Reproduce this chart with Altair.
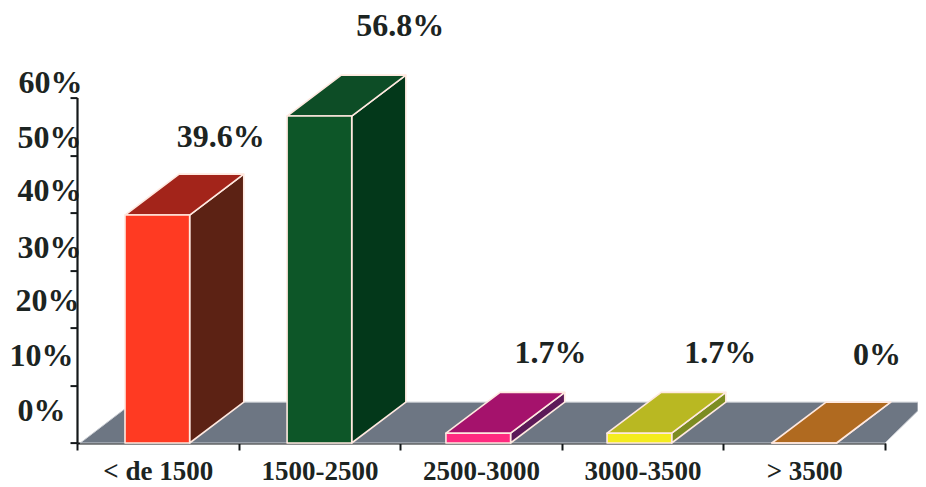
import altair as alt
import pandas as pd

categories = ["< de 1500", "1500-2500", "2500-3000", "3000-3500", "> 3500"]
values = [39.6, 56.8, 1.7, 1.7, 0.0]
value_labels = ["39.6%", "56.8%", "1.7%", "1.7%", "0%"]
front_colors = ["#ff3a22", "#0d5628", "#ff2a80", "#f4ec1e", "#b06a20"]
top_colors = ["#a3241a", "#0d4d26", "#a5126c", "#b9b822", "#b06a20"]
side_colors = ["#5c2214", "#03381a", "#5c1a58", "#7c8c22", "#b06a20"]
bar_left = [0.297, 1.30, 2.283, 3.28, 4.30]
label_x = [0.89, 2.0, 2.93, 3.98, 4.95]
label_y = [53.2, 72.4, 15.6, 15.6, 15.3]
y_ticks = [0, 10, 20, 30, 40, 50, 60]
x_ticks = [0, 1, 2, 3, 4, 5]

BAR_W = 0.4
DX = 0.335
DY = 7.1

rows = []
for i, v in enumerate(values):
    xl = bar_left[i]
    xr = xl + BAR_W
    # front
    rows += [dict(id=f"f{i}", x=xl, y=0, y2=v, fill=front_colors[i], kind="front"),
             dict(id=f"f{i}", x=xr, y=0, y2=v, fill=front_colors[i], kind="front")]
    # side
    rows += [dict(id=f"s{i}", x=xr, y=0, y2=v, fill=side_colors[i], kind="side"),
             dict(id=f"s{i}", x=xr + DX, y=DY, y2=v + DY, fill=side_colors[i], kind="side")]
    # top
    rows += [dict(id=f"t{i}", x=xl, y=v, y2=v, fill=top_colors[i], kind="top"),
             dict(id=f"t{i}", x=xl + DX, y=v, y2=v + DY, fill=top_colors[i], kind="top"),
             dict(id=f"t{i}", x=xr, y=v, y2=v + DY, fill=top_colors[i], kind="top"),
             dict(id=f"t{i}", x=xr + DX, y=v + DY, y2=v + DY, fill=top_colors[i], kind="top")]
faces = pd.DataFrame(rows)

floor = pd.DataFrame({
    "x": [0.02, 0.35, 5.0, 5.204],
    "y": [0, 0, 0, 5.6],
    "y2": [0, DY, DY, DY],
})

labels = pd.DataFrame({"x": label_x, "y": label_y, "t": value_labels})

xs = alt.Scale(domain=[0, 5], nice=False, zero=False)
ys = alt.Scale(domain=[0, 60], nice=False, zero=False)

cat_expr = "[" + ",".join(repr(c) for c in categories) + ",''][datum.value]"

x_axis = alt.Axis(
    values=x_ticks, title=None, grid=False, labelExpr=cat_expr,
    labelFont="Liberation Serif", labelFontWeight="bold", labelFontSize=27,
    labelColor="#1c2422", labelOffset=80.8, labelPadding=8, labelAngle=0,
    labelFlush=False, labelOverlap=False,
    domainColor="#14181a", domainWidth=2.2, tickColor="#14181a", tickWidth=2, tickSize=7,
)
y_axis = alt.Axis(
    values=y_ticks, title=None, grid=False, labelExpr="datum.value + '%'",
    labelFont="Liberation Serif", labelFontWeight="bold", labelFontSize=32,
    labelColor="#1c2422", labelFlush=False, labelOverlap=False, labelAlign="right",
    labelOffset=alt.expr("datum.value == 0 ? -33 : datum.value == 10 ? -30 : datum.value == 20 ? -27 : datum.value == 30 ? -23 : datum.value == 40 ? -22 : datum.value == 50 ? -18 : -15"),
    labelPadding=alt.expr("datum.value == 0 ? 5 : datum.value == 10 ? -3 : datum.value == 20 ? -9 : datum.value == 60 ? -12 : -11"),
    domainColor="#14181a", domainWidth=2.2, tickColor="#14181a", tickWidth=2, tickSize=7,
)

floor_layer = alt.Chart(floor).mark_area(color="#6d7683", stroke="#c9ccd2", strokeWidth=1, clip=False).encode(
    x=alt.X("x:Q", scale=xs, axis=x_axis),
    y=alt.Y("y:Q", scale=ys, axis=y_axis, stack=None),
    y2="y2:Q",
)

def face_layer(kind):
    return alt.Chart(faces[faces.kind == kind]).mark_area(stroke="#ffe9e0", strokeWidth=1.6, strokeJoin="round", clip=False).encode(
        x=alt.X("x:Q", scale=xs),
        y=alt.Y("y:Q", scale=ys, stack=None),
        y2="y2:Q",
        fill=alt.Fill("fill:N", scale=None),
        detail="id:N",
    )

label_layer = alt.Chart(labels).mark_text(
    font="Liberation Serif", fontWeight="bold", fontSize=32, color="#1c2422", baseline="middle", clip=False
).encode(
    x=alt.X("x:Q", scale=xs),
    y=alt.Y("y:Q", scale=ys),
    text="t:N",
)

chart = alt.layer(
    floor_layer, face_layer("side"), face_layer("top"), face_layer("front"), label_layer
).properties(
    width=808, height=345.4,
    padding={"left": 69, "top": 89.6, "right": 33, "bottom": 42},
    autosize=alt.AutoSizeParams(type="none"),
    background="white",
).configure_view(stroke=None)

chart.save("out.html", embed_options={"renderer": "svg", "actions": False})
